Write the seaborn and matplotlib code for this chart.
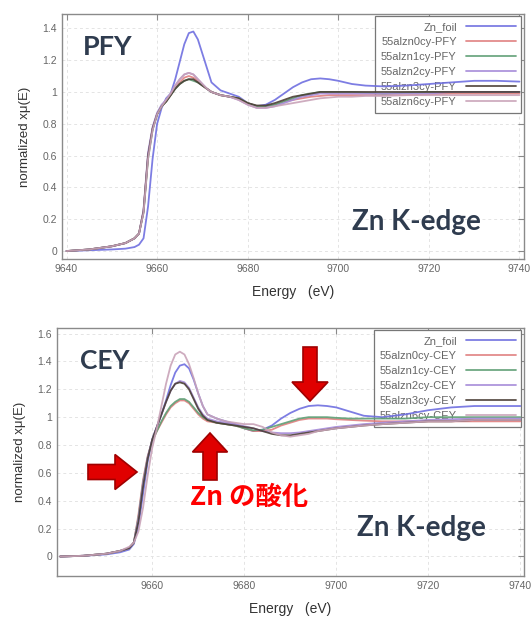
import numpy as np
import pandas as pd
import matplotlib
matplotlib.use("Agg")
import matplotlib.pyplot as plt
from matplotlib.patches import FancyArrow
import seaborn as sns

# energy grid (eV) shared by both panels
energy = [9640, 9645, 9650, 9653, 9655, 9656, 9657, 9658, 9659, 9660, 9661, 9662,
          9663, 9664, 9665, 9666, 9667, 9668, 9669, 9670, 9671, 9672, 9674, 9676,
          9678, 9680, 9682, 9684, 9686, 9688, 9690, 9692, 9694, 9696, 9698, 9700,
          9703, 9706, 9710, 9715, 9720, 9725, 9730, 9735, 9740]

samples = ["Zn_foil", "55alzn0cy", "55alzn1cy", "55alzn2cy", "55alzn3cy", "55alzn6cy"]
colors = ["#6f6fe0", "#e07f7f", "#5f9f75", "#a58ad8", "#4b3f36", "#c9a3b8"]

# ---- PFY ----
pfy_foil = [0.0, 0.005, 0.01, 0.015, 0.025, 0.04, 0.08, 0.28, 0.58, 0.80, 0.90, 0.96,
            0.99, 1.08, 1.19, 1.30, 1.37, 1.38, 1.33, 1.24, 1.15, 1.06, 1.01, 0.99,
            0.97, 0.93, 0.91, 0.92, 0.95, 0.99, 1.03, 1.06, 1.08, 1.085, 1.08, 1.07,
            1.05, 1.04, 1.035, 1.04, 1.05, 1.06, 1.07, 1.07, 1.065]
pfy_0cy = [0.0, 0.01, 0.03, 0.05, 0.08, 0.11, 0.25, 0.60, 0.77, 0.86, 0.91, 0.94,
           0.98, 1.03, 1.06, 1.09, 1.10, 1.09, 1.07, 1.04, 1.02, 1.00, 0.98, 0.97,
           0.96, 0.93, 0.91, 0.91, 0.92, 0.94, 0.95, 0.96, 0.97, 0.975, 0.98, 0.98,
           0.98, 0.98, 0.98, 0.98, 0.985, 0.99, 0.99, 0.99, 0.99]
pfy_1cy = [0.0, 0.01, 0.03, 0.05, 0.08, 0.11, 0.24, 0.58, 0.76, 0.86, 0.91, 0.94,
           0.98, 1.02, 1.05, 1.07, 1.08, 1.07, 1.06, 1.04, 1.02, 1.00, 0.98, 0.97,
           0.96, 0.93, 0.91, 0.91, 0.92, 0.94, 0.96, 0.98, 0.99, 1.00, 1.00, 1.00,
           1.00, 0.995, 0.99, 0.995, 1.00, 1.00, 1.00, 1.00, 1.00]
pfy_2cy = [0.0, 0.01, 0.03, 0.05, 0.08, 0.11, 0.26, 0.62, 0.78, 0.87, 0.92, 0.95,
           0.99, 1.04, 1.08, 1.11, 1.12, 1.11, 1.08, 1.05, 1.02, 1.00, 0.98, 0.97,
           0.95, 0.92, 0.90, 0.90, 0.91, 0.93, 0.95, 0.97, 0.98, 0.99, 0.99, 0.99,
           0.99, 0.99, 0.99, 0.99, 0.99, 1.00, 1.00, 1.00, 1.00]
pfy_3cy = [0.0, 0.01, 0.03, 0.05, 0.08, 0.11, 0.25, 0.60, 0.77, 0.86, 0.91, 0.94,
           0.98, 1.02, 1.05, 1.07, 1.08, 1.08, 1.06, 1.04, 1.02, 1.00, 0.98, 0.97,
           0.96, 0.93, 0.915, 0.915, 0.93, 0.95, 0.97, 0.98, 0.99, 1.00, 1.00, 1.00,
           1.00, 1.00, 1.00, 1.00, 1.00, 1.00, 1.00, 1.00, 1.00]
pfy_6cy = [0.0, 0.01, 0.03, 0.05, 0.08, 0.11, 0.24, 0.58, 0.76, 0.86, 0.91, 0.95,
           0.99, 1.04, 1.08, 1.11, 1.12, 1.11, 1.08, 1.05, 1.02, 1.00, 0.98, 0.97,
           0.95, 0.92, 0.90, 0.90, 0.91, 0.92, 0.93, 0.94, 0.95, 0.96, 0.965, 0.97,
           0.97, 0.975, 0.975, 0.98, 0.98, 0.98, 0.98, 0.98, 0.98]

# ---- CEY ----
cey_foil = [0.0, 0.005, 0.015, 0.03, 0.05, 0.09, 0.22, 0.45, 0.68, 0.84, 0.93, 1.02,
            1.12, 1.23, 1.32, 1.37, 1.38, 1.35, 1.27, 1.17, 1.08, 1.02, 0.99, 0.97,
            0.95, 0.92, 0.90, 0.91, 0.94, 0.99, 1.03, 1.06, 1.08, 1.085, 1.08, 1.07,
            1.04, 1.01, 1.00, 1.02, 1.05, 1.07, 1.08, 1.08, 1.08]
cey_0cy = [0.0, 0.005, 0.02, 0.04, 0.06, 0.10, 0.30, 0.55, 0.72, 0.83, 0.90, 0.96,
           1.02, 1.07, 1.10, 1.12, 1.12, 1.10, 1.06, 1.02, 0.99, 0.97, 0.96, 0.95,
           0.94, 0.92, 0.90, 0.90, 0.91, 0.94, 0.96, 0.98, 0.99, 0.99, 0.99, 0.985,
           0.98, 0.975, 0.97, 0.97, 0.97, 0.97, 0.97, 0.97, 0.97]
cey_1cy = [0.0, 0.005, 0.02, 0.04, 0.06, 0.10, 0.28, 0.53, 0.71, 0.83, 0.90, 0.97,
           1.03, 1.08, 1.11, 1.13, 1.13, 1.11, 1.07, 1.03, 1.00, 0.98, 0.96, 0.95,
           0.94, 0.92, 0.905, 0.91, 0.93, 0.95, 0.97, 0.99, 1.00, 1.00, 1.00, 0.995,
           0.99, 0.99, 0.99, 0.99, 1.00, 1.00, 1.00, 1.00, 1.00]
cey_2cy = [0.0, 0.005, 0.02, 0.04, 0.06, 0.10, 0.27, 0.52, 0.71, 0.84, 0.93, 1.02,
           1.11, 1.19, 1.24, 1.26, 1.25, 1.21, 1.14, 1.07, 1.02, 0.99, 0.97, 0.96,
           0.95, 0.935, 0.92, 0.90, 0.89, 0.885, 0.885, 0.89, 0.90, 0.91, 0.92, 0.93,
           0.94, 0.95, 0.96, 0.97, 0.98, 0.985, 0.99, 0.99, 0.99]
cey_3cy = [0.0, 0.005, 0.02, 0.04, 0.06, 0.10, 0.25, 0.50, 0.70, 0.84, 0.93, 1.02,
           1.11, 1.19, 1.24, 1.25, 1.24, 1.20, 1.13, 1.06, 1.01, 0.98, 0.96, 0.95,
           0.94, 0.93, 0.92, 0.90, 0.88, 0.87, 0.87, 0.88, 0.89, 0.90, 0.91, 0.92,
           0.93, 0.94, 0.95, 0.96, 0.97, 0.97, 0.98, 0.98, 0.98]
cey_6cy = [0.0, 0.005, 0.02, 0.04, 0.07, 0.10, 0.18, 0.35, 0.58, 0.78, 0.92, 1.08,
           1.24, 1.37, 1.45, 1.47, 1.45, 1.38, 1.28, 1.17, 1.08, 1.02, 0.99, 0.97,
           0.96, 0.95, 0.95, 0.93, 0.89, 0.87, 0.86, 0.87, 0.88, 0.90, 0.91, 0.92,
           0.93, 0.94, 0.95, 0.96, 0.97, 0.97, 0.98, 0.98, 0.98]

pfy = [pfy_foil, pfy_0cy, pfy_1cy, pfy_2cy, pfy_3cy, pfy_6cy]
cey = [cey_foil, cey_0cy, cey_1cy, cey_2cy, cey_3cy, cey_6cy]


def long_table(series, suffix):
    rows = []
    for name, vals in zip(samples, series):
        label = name if name == "Zn_foil" else name + "-" + suffix
        for e, v in zip(energy, vals):
            rows.append((label, e, v))
    return pd.DataFrame(rows, columns=["sample", "energy", "mu"])


sns.set_style("white")
plt.rcParams["font.family"] = ["Liberation Sans", "DejaVu Sans"]

fig = plt.figure(figsize=(5.31, 6.28), dpi=100)
ax1 = fig.add_axes([62 / 531, 1 - 259 / 628, 462 / 531, 245 / 628])
ax2 = fig.add_axes([57 / 531, 1 - 576 / 628, 467 / 531, 248 / 628])

panels = [
    (ax1, long_table(pfy, "PFY"), (9639, 9741), (-0.05, 1.49),
     [9640, 9660, 9680, 9700, 9720, 9740], [0, 0.2, 0.4, 0.6, 0.8, 1, 1.2, 1.4]),
    (ax2, long_table(cey, "CEY"), (9639.3, 9740.8), (-0.14, 1.64),
     [9660, 9680, 9700, 9720, 9740], [0, 0.2, 0.4, 0.6, 0.8, 1, 1.2, 1.4, 1.6]),
]

for ax, df, xl, yl, xt, yt in panels:
    order = list(dict.fromkeys(df["sample"]))
    sns.lineplot(data=df, x="energy", y="mu", hue="sample", hue_order=order,
                 palette=colors, linewidth=1.3, alpha=0.9, legend=False, ax=ax)
    ax.set_xlim(*xl)
    ax.set_ylim(*yl)
    ax.set_xticks(xt)
    ax.set_yticks(yt)
    ax.set_yticklabels([("%g" % t) for t in yt])
    ax.set_axisbelow(True)
    ax.grid(True, color="#e4e4e4", linestyle=(0, (3, 3)), linewidth=0.7)
    for s in ax.spines.values():
        s.set_color("#8a8a8a")
        s.set_linewidth(1.0)
    ax.tick_params(direction="in", length=4, width=0.8, color="#8a8a8a",
                   top=True, right=True, labelsize=7.5, labelcolor="#666666")
    ax.set_xlabel("Energy   (eV)", fontsize=10, color="#333333", labelpad=8)
    ax.set_ylabel("normalized x\u03bc(E)", fontsize=9.5, color="#333333", labelpad=8)
    leg = ax.legend(handles=ax.lines[:6], labels=order, loc="upper right",
                    bbox_to_anchor=(0.994, 0.99), borderaxespad=0, markerfirst=False,
                    fontsize=8, labelcolor="#666666", frameon=True, fancybox=False,
                    edgecolor="#777777", framealpha=1, handlelength=4.5,
                    labelspacing=0.45, borderpad=0.5, handletextpad=0.8)
    leg.get_frame().set_linewidth(0.9)
    leg.set_zorder(1.5)

title_color = "#2f3c4f"
fig.text(83 / 531, 1 - 47 / 628, "PFY", fontsize=19.5, fontweight="bold",
         family="Lato", color=title_color, va="center")
fig.text(352 / 531, 1 - 222 / 628, "Zn K-edge", fontsize=20, fontweight="bold",
         family="Lato", color=title_color, va="center")
fig.text(80 / 531, 1 - 361 / 628, "CEY", fontsize=19, fontweight="bold",
         family="Lato", color=title_color, va="center")
fig.text(357 / 531, 1 - 528 / 628, "Zn K-edge", fontsize=20, fontweight="bold",
         family="Lato", color=title_color, va="center")
fig.text(190 / 531, 1 - 497 / 628, "Zn の酸化", fontsize=19, fontweight="bold",
         family=["Noto Sans CJK JP", "DejaVu Sans"], color="#ff0000", va="center")

# red arrows (inches from the bottom-left corner)
arrow_kw = dict(transform=fig.dpi_scale_trans, facecolor="#e00000",
                edgecolor="#a00000", linewidth=1.2, length_includes_head=True)
fig.patches.append(FancyArrow(0.88, 1.56, 0.49, 0, width=0.15, head_width=0.35,
                              head_length=0.22, **arrow_kw))
fig.patches.append(FancyArrow(2.10, 1.48, 0, 0.47, width=0.14, head_width=0.35,
                              head_length=0.19, **arrow_kw))
fig.patches.append(FancyArrow(3.10, 2.81, 0, -0.54, width=0.14, head_width=0.36,
                              head_length=0.19, **arrow_kw))

fig.savefig("out.png", dpi=100)
